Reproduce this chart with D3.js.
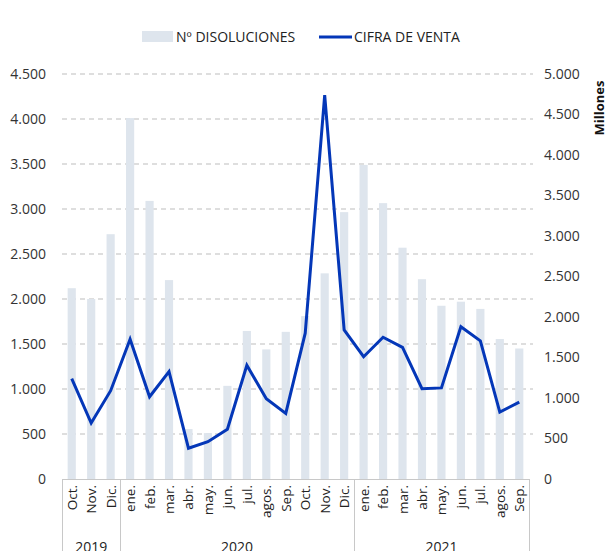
<!DOCTYPE html>
<html><head><meta charset="utf-8">
<script src="https://cdn.jsdelivr.net/npm/d3@7"></script>
<style>body{margin:0;background:#fff}svg{display:block;font-family:"Open Sans","Noto Sans",sans-serif}</style>
</head><body>
<svg id="c" width="612" height="551"></svg>
<script>
const months = ["Oct.","Nov.","Dic.","ene.","feb.","mar.","abr.","may.","jun.","jul.","agos.","Sep.","Oct.","Nov.","Dic.","ene.","feb.","mar.","abr.","may.","jun.","jul.","agos.","Sep."];
const years = [{label:"2019",start:0,end:3},{label:"2020",start:3,end:15},{label:"2021",start:15,end:24}];
const disoluciones = [2120,2000,2720,4010,3090,2210,555,510,1035,1645,1440,1635,1810,2285,2965,3490,3065,2570,2220,1925,1970,1890,1555,1450];
const ventas = [1240,690,1090,1725,1015,1325,380,460,615,1405,990,810,1800,4740,1840,1510,1750,1625,1115,1125,1880,1705,825,950];
const leftTicks = [0,500,1000,1500,2000,2500,3000,3500,4000,4500];
const rightTicks = [0,500,1000,1500,2000,2500,3000,3500,4000,4500,5000];
const fmt = v => d3.format(",")(v).replace(/,/g,".");

const svg = d3.select("#c");
const L=62,R=529,T=74,B=479;
const idx = months.map((d,i)=>i);
const x = d3.scaleBand().domain(idx).range([L,R]).paddingInner(0.58).paddingOuter(0.29);
const xc = i => x(i)+x.bandwidth()/2;
const y = d3.scaleLinear().domain([0,4500]).range([B,T]);
const y2 = d3.scaleLinear().domain([0,5000]).range([B,T]);

// gridlines
svg.append("g").selectAll("line").data(leftTicks.filter(d=>d>0)).join("line")
  .attr("x1",L).attr("x2",R+4).attr("y1",d=>y(d)).attr("y2",d=>y(d))
  .attr("stroke","#bdbdbd").attr("stroke-dasharray","5,4").attr("stroke-width",1);

// bars
svg.append("g").selectAll("rect").data(disoluciones).join("rect")
  .attr("x",(d,i)=>x(i)).attr("width",x.bandwidth())
  .attr("y",d=>y(d)).attr("height",d=>B-y(d)).attr("fill","#dee5ed");

// line
svg.append("path").datum(ventas)
  .attr("d",d3.line().x((d,i)=>xc(i)).y(d=>y2(d)))
  .attr("fill","none").attr("stroke","#0437b8").attr("stroke-width",3).attr("stroke-linejoin","miter");

// left axis
const la = svg.append("g").attr("transform",`translate(${L},0)`)
  .call(d3.axisLeft(y).tickValues(leftTicks).tickFormat(fmt).tickSize(0).tickPadding(16));
la.select(".domain").remove();
la.selectAll("text").attr("font-size",14).attr("fill","#333").attr("font-family","'Open Sans',sans-serif");

// right axis
const ra = svg.append("g").attr("transform",`translate(${R},0)`)
  .call(d3.axisRight(y2).tickValues(rightTicks).tickFormat(fmt).tickSize(0).tickPadding(15));
ra.select(".domain").remove();
ra.selectAll("text").attr("font-size",14).attr("fill","#333").attr("font-family","'Open Sans',sans-serif");

svg.append("text").attr("transform","translate(604,108) rotate(-90)")
  .attr("text-anchor","middle").attr("font-size",13).attr("font-weight","bold").attr("fill","#111").text("Millones");

// x axis
svg.append("line").attr("x1",L).attr("x2",R).attr("y1",B+0.5).attr("y2",B+0.5).attr("stroke","#c8c8c8");
const sepIdx = [0,3,15,24];
svg.append("g").selectAll("line").data(sepIdx).join("line")
  .attr("x1",d=>Math.round(d===24?R:L+(R-L)*d/24)+0.5).attr("x2",d=>Math.round(d===24?R:L+(R-L)*d/24)+0.5)
  .attr("y1",B).attr("y2",551).attr("stroke","#c8c8c8");

svg.append("g").selectAll("text").data(months).join("text")
  .attr("transform",(d,i)=>`translate(${xc(i)+5},${B+6}) rotate(-90)`)
  .attr("text-anchor","end").attr("font-size",13.5).attr("fill","#222").text(d=>d);

svg.append("g").selectAll("text").data(years).join("text")
  .attr("x",d=>L+(R-L)*(d.start+d.end)/48).attr("y",552)
  .attr("text-anchor","middle").attr("font-size",14).attr("fill","#222").text(d=>d.label);

// legend
const lg = svg.append("g");
lg.append("rect").attr("x",142).attr("y",31).attr("width",31).attr("height",11).attr("fill","#dee5ed");
lg.append("text").attr("x",176).attr("y",42).attr("font-size",14).attr("fill","#222").text("Nº DISOLUCIONES");
lg.append("line").attr("x1",319).attr("x2",352).attr("y1",37).attr("y2",37).attr("stroke","#0437b8").attr("stroke-width",3);
lg.append("text").attr("x",354).attr("y",42).attr("font-size",14).attr("fill","#222").text("CIFRA DE VENTA");
</script>
</body></html>
